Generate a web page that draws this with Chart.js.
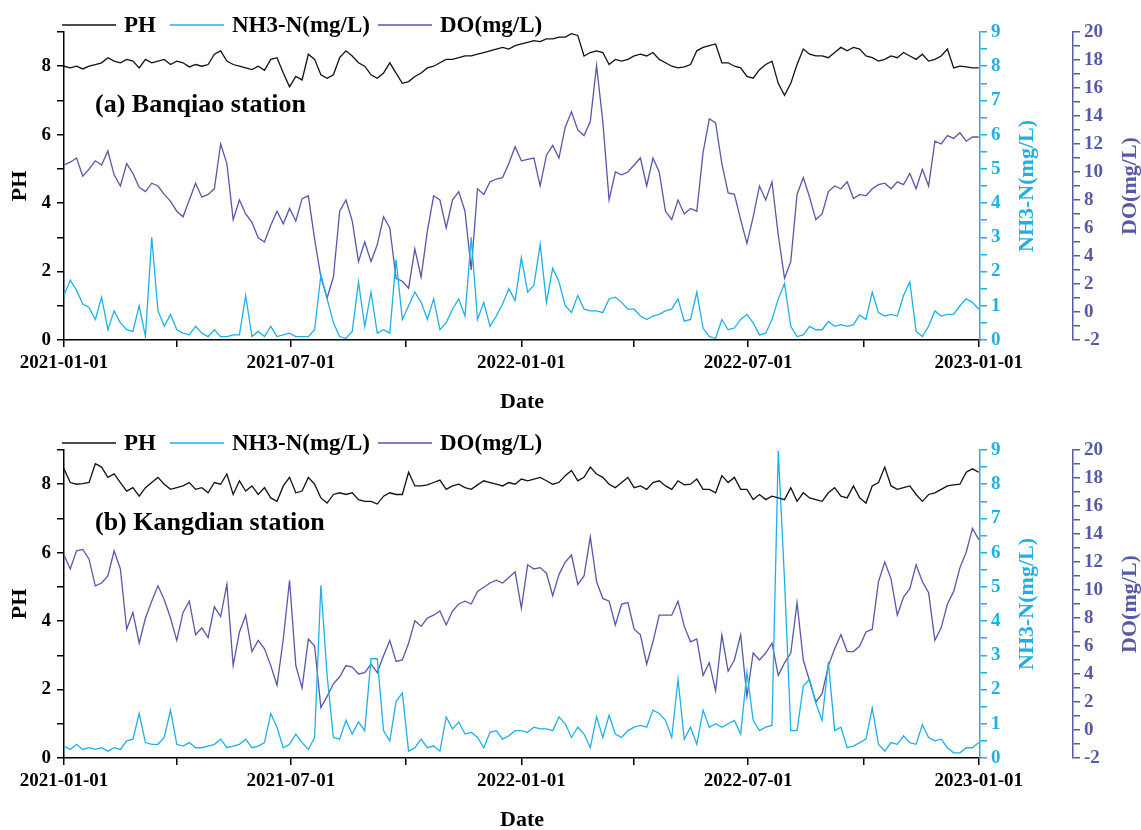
<!DOCTYPE html>
<html lang="en">
<head>
  <meta charset="UTF-8" />
  <title>PH / NH3-N / DO - Banqiao and Kangdian</title>
  <script src="https://cdn.jsdelivr.net/npm/chart.js@4.4.1/dist/chart.umd.min.js"></script>
  <style>
    body { margin: 0; background: #fff; width: 1141px; height: 830px; overflow: hidden; position: relative; }
    .panel { position: absolute; left: 0; width: 1141px; height: 412px; }
    #p1 { top: 0; }
    #p2 { top: 418px; }
  </style>
</head>
<body>
  <div class="panel" id="p1"><canvas id="c1" width="1141" height="412"></canvas></div>
  <div class="panel" id="p2"><canvas id="c2" width="1141" height="412"></canvas></div>
  <script>
    // one sample every 5 days, day 0 = 2021-01-01
    const stepDays = 5;
    const tickDays = [0, 90, 181, 273, 365, 455, 546, 638, 730];
    const labelDays = [0, 181, 365, 546, 730];
    const labelText = ['2021-01-01', '2021-07-01', '2022-01-01', '2022-07-01', '2023-01-01'];
    const seriesNames = ['PH', 'NH3-N(mg/L)', 'DO(mg/L)'];

    // (a) Banqiao station
    const phA = [
      8.0, 7.95, 8.0, 7.92, 8.0, 8.05, 8.1, 8.25, 8.15, 8.1,
      8.2, 8.15, 7.95, 8.2, 8.1, 8.15, 8.2, 8.05, 8.15, 8.1,
      7.98, 8.05, 8.0, 8.05, 8.35, 8.45, 8.15, 8.05, 8.0, 7.95,
      7.9, 8.0, 7.88, 8.2, 8.25, 7.8, 7.4, 7.7, 7.6, 8.35,
      8.2, 7.75, 7.65, 7.75, 8.25, 8.45, 8.3, 8.1, 8.0, 7.75,
      7.65, 7.8, 8.1, 7.8, 7.5, 7.55, 7.7, 7.8, 7.95, 8.0,
      8.1, 8.2, 8.2, 8.25, 8.3, 8.3, 8.35, 8.4, 8.45, 8.5,
      8.55, 8.5, 8.6, 8.65, 8.7, 8.75, 8.72, 8.8, 8.8, 8.85,
      8.85, 8.95, 8.9, 8.3, 8.4, 8.45, 8.4, 8.05, 8.2, 8.15,
      8.2, 8.3, 8.35, 8.3, 8.4, 8.2, 8.1, 8.0, 7.95, 7.98,
      8.05, 8.45, 8.55, 8.6, 8.65, 8.1, 8.1, 8.0, 7.95, 7.7,
      7.65, 7.9, 8.05, 8.15, 7.5, 7.15, 7.5, 8.05, 8.5, 8.35,
      8.3, 8.3, 8.25, 8.4, 8.55, 8.45, 8.55, 8.5, 8.3, 8.25,
      8.15, 8.2, 8.3, 8.25, 8.4, 8.3, 8.2, 8.35, 8.15, 8.2,
      8.3, 8.5, 7.95, 8.0, 7.98, 7.95, 7.95
    ];
    const nh3A = [
      1.3, 1.75, 1.45, 1.05, 0.95, 0.6, 1.25, 0.3, 0.85, 0.5,
      0.3, 0.25, 1.0, 0.1, 3.0, 0.85, 0.4, 0.75, 0.3, 0.2,
      0.15, 0.4, 0.2, 0.1, 0.3, 0.1, 0.1, 0.15, 0.15, 1.3,
      0.1, 0.25, 0.1, 0.4, 0.1, 0.15, 0.2, 0.1, 0.1, 0.1,
      0.3, 1.9, 1.2, 0.5, 0.1, 0.05, 0.25, 1.7, 0.4, 1.4,
      0.2, 0.3, 0.2, 2.35, 0.6, 1.0, 1.4, 1.1, 0.6, 1.2,
      0.3, 0.5, 0.9, 1.2, 0.7, 3.0, 0.6, 1.1, 0.4, 0.7,
      1.05, 1.5, 1.15, 2.4, 1.4, 1.6, 2.8, 1.1, 2.1, 1.7,
      1.0, 0.8, 1.3, 0.9, 0.85, 0.85, 0.8, 1.2, 1.25, 1.1,
      0.9, 0.9, 0.7, 0.6, 0.7, 0.75, 0.85, 0.9, 1.2, 0.55,
      0.6, 1.4, 0.35, 0.1, 0.05, 0.6, 0.3, 0.35, 0.6, 0.75,
      0.5, 0.15, 0.2, 0.6, 1.2, 1.65, 0.4, 0.1, 0.15, 0.4,
      0.3, 0.3, 0.54, 0.4, 0.45, 0.4, 0.45, 0.73, 0.6, 1.4,
      0.8, 0.7, 0.75, 0.7, 1.3, 1.7, 0.25, 0.1, 0.4, 0.85,
      0.7, 0.75, 0.75, 1.0, 1.2, 1.1, 0.9
    ];
    const doA = [
      10.5, 10.7, 11.0, 9.7, 10.2, 10.8, 10.5, 11.5, 9.8, 9.0,
      10.6, 9.9, 8.9, 8.6, 9.2, 9.0, 8.4, 7.9, 7.2, 6.8,
      8.0, 9.2, 8.2, 8.4, 8.8, 12.0, 10.6, 6.6, 8.0, 7.0,
      6.4, 5.3, 5.0, 6.2, 7.2, 6.3, 7.4, 6.5, 8.1, 8.3,
      5.2, 2.5, 1.0, 2.5, 7.2, 8.0, 6.5, 3.6, 5.0, 3.6,
      4.8, 6.8, 6.0, 2.4, 2.2, 1.7, 4.5, 2.5, 5.8, 8.3,
      8.0, 6.0, 8.0, 8.6, 7.2, 3.0, 8.8, 8.4, 9.3, 9.5,
      9.6, 10.6, 11.8, 10.8, 10.9, 11.0, 9.0, 11.2, 11.9, 11.0,
      13.2, 14.3, 13.0, 12.6, 13.6, 17.6, 13.6, 8.0, 10.0, 9.8,
      10.0, 10.5, 11.0, 9.0, 11.0, 10.0, 7.2, 6.6, 8.0, 7.0,
      7.4, 7.2, 11.4, 13.8, 13.5, 10.6, 8.5, 8.4, 6.6, 4.9,
      6.8, 9.0, 8.0, 9.3, 5.5, 2.4, 3.6, 8.4, 9.6, 8.2,
      6.6, 7.0, 8.6, 9.0, 8.8, 9.3, 8.1, 8.4, 8.3, 8.8,
      9.1, 9.2, 8.8, 9.3, 9.1, 9.9, 8.8, 10.2, 9.0, 12.2,
      12.0, 12.6, 12.4, 12.8, 12.2, 12.5, 12.5
    ];

    // (b) Kangdian station
    const phB = [
      8.45, 8.05, 8.0, 8.02, 8.05, 8.6, 8.5, 8.2, 8.3, 8.05,
      7.8, 7.9, 7.65, 7.9, 8.05, 8.2, 8.0, 7.85, 7.9, 7.95,
      8.05, 7.85, 7.9, 7.75, 8.05, 8.0, 8.3, 7.7, 8.1, 7.8,
      7.95, 7.7, 7.9, 7.6, 7.5, 7.95, 8.2, 7.75, 7.8, 8.2,
      8.0, 7.6, 7.45, 7.7, 7.75, 7.7, 7.75, 7.55, 7.5, 7.5,
      7.42, 7.65, 7.75, 7.7, 7.7, 8.35, 7.95, 7.95, 7.98, 8.05,
      8.12, 7.85, 7.95, 8.0, 7.9, 7.85, 7.98, 8.1, 8.05, 8.0,
      7.95, 8.05, 8.0, 8.15, 8.1, 8.15, 8.2, 8.1, 8.0, 8.05,
      8.25, 8.4, 8.1, 8.2, 8.5, 8.3, 8.2, 8.0, 7.9, 8.05,
      8.2, 7.9, 7.95, 7.85, 8.05, 8.1, 7.95, 7.85, 8.1, 7.98,
      8.0, 8.15, 7.85, 7.85, 7.75, 8.25, 8.05, 8.2, 7.85, 7.85,
      7.55, 7.7, 7.55, 7.65, 7.6, 7.55, 7.9, 7.5, 7.75, 7.6,
      7.55, 7.5, 7.75, 7.9, 7.65, 7.6, 7.95, 7.6, 7.45, 7.95,
      8.05, 8.5, 7.95, 7.85, 7.9, 7.95, 7.7, 7.5, 7.7, 7.75,
      7.85, 7.95, 7.98, 8.0, 8.35, 8.45, 8.35
    ];
    const nh3B = [
      0.34, 0.25, 0.4, 0.25, 0.3, 0.25, 0.3, 0.2, 0.3, 0.25,
      0.5, 0.55, 1.3, 0.45, 0.4, 0.4, 0.6, 1.4, 0.4, 0.35,
      0.45, 0.3, 0.3, 0.35, 0.4, 0.55, 0.3, 0.35, 0.4, 0.55,
      0.3, 0.35, 0.45, 1.3, 0.9, 0.3, 0.4, 0.7, 0.45, 0.25,
      0.6, 5.05, 2.4, 0.6, 0.55, 1.1, 0.7, 1.05, 0.8, 2.9,
      2.9, 0.8, 0.5, 1.65, 1.9, 0.2, 0.3, 0.55, 0.3, 0.35,
      0.2, 1.2, 0.85, 1.05, 0.7, 0.75, 0.6, 0.3, 0.75, 0.8,
      0.55, 0.65, 0.8, 0.8, 0.75, 0.9, 0.85, 0.85, 0.8, 1.2,
      1.0, 0.6, 0.9, 0.7, 0.3, 1.2, 0.6, 1.25, 0.7, 0.6,
      0.8, 0.9, 0.95, 0.9, 1.4, 1.3, 1.1, 0.6, 2.3, 0.55,
      0.9, 0.4, 1.4, 0.9, 1.0, 0.9, 1.0, 1.1, 0.7, 2.5,
      1.1, 0.8, 0.9, 0.95, 8.97, 5.2, 0.8, 0.8, 2.1, 2.3,
      1.6, 1.1, 2.8, 0.8, 0.9, 0.3, 0.35, 0.45, 0.55, 1.46,
      0.4, 0.2, 0.45, 0.4, 0.65, 0.45, 0.4, 0.97, 0.6, 0.5,
      0.55, 0.3, 0.15, 0.15, 0.3, 0.3, 0.45
    ];
    const doB = [
      12.5, 11.5, 12.8, 12.9, 12.2, 10.3, 10.5, 11.0, 12.8, 11.5,
      7.2, 8.4, 6.2, 8.0, 9.2, 10.3, 9.3, 8.0, 6.4, 8.4,
      9.2, 6.8, 7.3, 6.6, 8.8, 8.1, 10.4, 4.6, 7.0, 8.2,
      5.6, 6.4, 5.8, 4.6, 3.2, 6.5, 10.7, 4.6, 3.0, 6.5,
      6.0, 1.6, 2.4, 3.3, 3.8, 4.6, 4.5, 4.0, 4.1, 4.7,
      4.1, 5.3, 6.4, 4.9, 5.0, 6.2, 7.8, 7.4, 8.0, 8.2,
      8.5, 7.5, 8.5, 9.0, 9.2, 9.0, 9.9, 10.2, 10.5, 10.7,
      10.5, 10.9, 11.3, 8.7, 11.8, 11.5, 11.6, 11.2, 9.6, 11.1,
      12.0, 12.5, 10.4, 11.0, 13.8, 10.6, 9.4, 9.2, 7.5, 9.0,
      9.1, 7.2, 6.8, 4.7, 6.3, 8.2, 8.2, 8.2, 9.2, 7.4,
      6.3, 6.5, 3.9, 4.8, 2.8, 6.8, 4.2, 5.0, 6.8, 2.4,
      5.5, 5.0, 5.5, 6.2, 3.9, 4.8, 5.5, 9.1, 5.0, 3.5,
      2.0, 2.6, 4.6, 5.8, 6.8, 5.6, 5.6, 6.0, 7.0, 7.2,
      10.6, 12.0, 10.8, 8.2, 9.5, 10.1, 11.8, 10.6, 9.8, 6.4,
      7.3, 9.0, 9.9, 11.6, 12.7, 14.4, 13.6
    ];

    const colPH = '#111111';
    const colNH3 = '#1fb0e8';
    const colDO = '#5659a8';
    const serif = '"Liberation Serif", "Times New Roman", serif';

    function pts(arr) {
      return arr.map((v, i) => ({ x: i * stepDays, y: v }));
    }

    // legend, station label and axis titles drawn by hand (right titles read upwards)
    const decor = {
      id: 'decor',
      afterDraw(chart, args, opts) {
        const ctx = chart.ctx;
        const a = chart.chartArea;
        const midY = (a.top + a.bottom) / 2;
        ctx.save();
        ctx.textBaseline = 'middle';
        ctx.font = 'bold 23px ' + serif;
        const cols = [colPH, colNH3, colDO];
        const lineX = [62, 170, 378];
        seriesNames.forEach((name, i) => {
          const x = lineX[i];
          ctx.strokeStyle = cols[i];
          ctx.lineWidth = 1.5;
          ctx.beginPath();
          ctx.moveTo(x, 25);
          ctx.lineTo(x + 54, 25);
          ctx.stroke();
          ctx.fillStyle = '#000';
          ctx.textAlign = 'left';
          ctx.fillText(name, x + 62, 26);
        });

        ctx.font = 'bold 26px ' + serif;
        ctx.fillText(opts.station, 95, 105);

        ctx.font = 'bold 22px ' + serif;
        ctx.textAlign = 'center';
        ctx.fillText('Date', (a.left + a.right) / 2, 402);

        const vtitle = (text, cx, color) => {
          ctx.save();
          ctx.translate(cx, midY);
          ctx.rotate(-Math.PI / 2);
          ctx.fillStyle = color;
          ctx.fillText(text, 0, 0);
          ctx.restore();
        };
        vtitle('PH', 20, '#000');
        vtitle('NH3-N(mg/L)', 1027, colNH3);
        vtitle('DO(mg/L)', 1130, colDO);
        ctx.restore();
      }
    };

    function yAxis(pos, min, max, step, labelEvery, color, width, weight) {
      return {
        type: 'linear',
        position: pos,
        weight: weight,
        min: min,
        max: max,
        border: { display: true, color: color, width: 1.5 },
        grid: { drawOnChartArea: false, drawTicks: true, tickLength: 7, color: color, lineWidth: 1.5 },
        ticks: {
          stepSize: step,
          autoSkip: false,
          padding: pos === 'left' ? 6 : 4,
          color: color,
          font: { family: serif, size: 19, weight: 'bold' },
          callback: (v) => (Math.abs(v / labelEvery - Math.round(v / labelEvery)) < 1e-6 ? String(v) : '')
        },
        afterFit: (s) => { s.width = width; }
      };
    }

    function makeChart(id, ph, nh3, dox, station) {
      new Chart(document.getElementById(id), {
        type: 'line',
        data: {
          datasets: [
            { label: seriesNames[0], data: pts(ph), yAxisID: 'yPH', borderColor: colPH, borderWidth: 1.3, pointRadius: 0 },
            { label: seriesNames[1], data: pts(nh3), yAxisID: 'yNH3', borderColor: colNH3, borderWidth: 1.3, pointRadius: 0 },
            { label: seriesNames[2], data: pts(dox), yAxisID: 'yDO', borderColor: colDO, borderWidth: 1.3, pointRadius: 0 }
          ]
        },
        options: {
          responsive: false,
          animation: false,
          devicePixelRatio: 1,
          layout: { padding: { top: 32, left: 0, right: 0, bottom: 0 } },
          plugins: { legend: { display: false }, tooltip: { enabled: false }, decor: { station: station } },
          scales: {
            x: {
              type: 'linear',
              min: 0,
              max: 731,
              border: { display: true, color: '#000', width: 1.5 },
              grid: { drawOnChartArea: false, drawTicks: true, tickLength: 7, color: '#000', lineWidth: 1.5 },
              afterBuildTicks: (s) => { s.ticks = tickDays.map(v => ({ value: v })); },
              ticks: {
                autoSkip: false,
                maxRotation: 0,
                padding: 5,
                color: '#000',
                font: { family: serif, size: 19, weight: 'bold' },
                callback: (v) => { const k = labelDays.indexOf(v); return k >= 0 ? labelText[k] : ''; }
              },
              afterFit: (s) => { s.height = 72; }
            },
            yPH: yAxis('left', 0, 9, 1, 2, '#000', 64, 0),
            yNH3: yAxis('right', 0, 9, 0.5, 1, colNH3, 93, 0),
            yDO: yAxis('right', -2, 20, 1, 2, colDO, 68, 1)
          }
        },
        plugins: [decor]
      });
    }

    makeChart('c1', phA, nh3A, doA, '(a) Banqiao station');
    makeChart('c2', phB, nh3B, doB, '(b) Kangdian station');
  </script>
</body>
</html>
